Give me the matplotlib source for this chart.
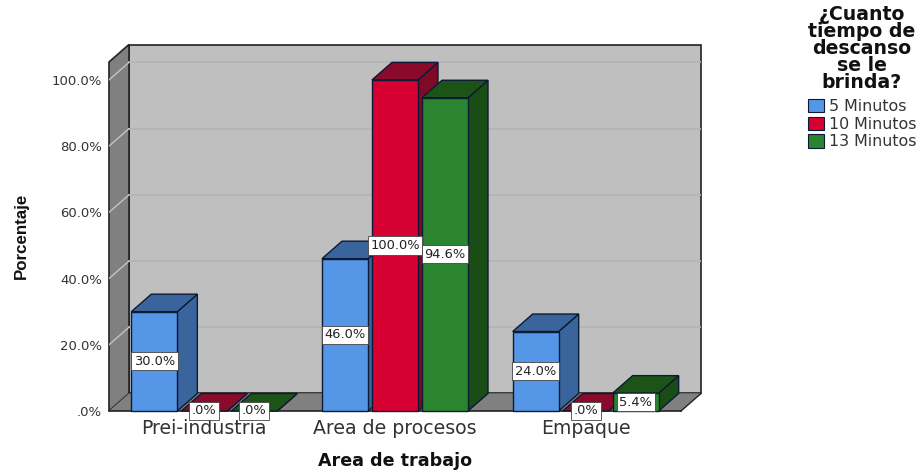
import matplotlib
matplotlib.use("Agg")
import matplotlib.pyplot as plt
from matplotlib.patches import Polygon, Patch

# =====================================================================
# Data
# =====================================================================
areas = ["Prei-industria", "Area de procesos", "Empaque"]
series_names = ["5 Minutos", "10 Minutos", "13 Minutos"]
minutos_5 = [30.0, 46.0, 24.0]
minutos_10 = [0.0, 100.0, 0.0]
minutos_13 = [0.0, 94.6, 5.4]
y_ticks = [0, 20, 40, 60, 80, 100]
y_labels = [".0%", "20.0%", "40.0%", "60.0%", "80.0%", "100.0%"]

# =====================================================================
# Style
# =====================================================================
FRONT = ["#5596E6", "#D60032", "#2A8430"]
TOP = ["#3A659C", "#8A0A2C", "#1C5418"]
SIDE = ["#3A659C", "#7E0A28", "#1A4D16"]
EDGE = "#0C1A33"
WALL = "#BFBFBF"
DARK_WALL = "#808080"

plt.rcParams["font.family"] = "DejaVu Sans"

fig = plt.figure(figsize=(9.18, 4.71), dpi=100)
W, H = 918, 471
# axes covers the front plane plus the depth of the box
ax = fig.add_axes([109 / W, 1 - 411 / H, (701 - 109) / W, (411 - 44.5) / H])

PX_X = 572 / 3.0       # pixels per category
PX_Y = 3.31            # pixels per percent
DX = 20 / PX_X
DY = 17.5 / PX_Y
TOP_VALUE = 105.4

ax.set_xlim(-0.5, 2.5 + DX)
ax.set_ylim(0, TOP_VALUE + DY)
for s in ax.spines.values():
    s.set_visible(False)
ax.set_facecolor("none")


def poly(points, color, z, edge="#222222", lw=1.0):
    ax.add_patch(Polygon(points, closed=True, facecolor=color, edgecolor=edge,
                         linewidth=lw, zorder=z, clip_on=False))


# box: back wall, left wall, floor
poly([(-0.5 + DX, DY), (2.5 + DX, DY), (2.5 + DX, TOP_VALUE + DY), (-0.5 + DX, TOP_VALUE + DY)], WALL, 1, lw=1.2)
poly([(-0.5, 0), (-0.5 + DX, DY), (-0.5 + DX, TOP_VALUE + DY), (-0.5, TOP_VALUE)], DARK_WALL, 1, lw=1.2)
poly([(-0.5, 0), (2.5, 0), (2.5 + DX, DY), (-0.5 + DX, DY)], DARK_WALL, 1.5, edge="none")
ax.plot([-0.5, 2.5], [0, 0], color="#222222", lw=1.2, zorder=1.6, clip_on=False)
ax.plot([2.5, 2.5 + DX], [0, DY], color="#222222", lw=1.0, zorder=1.6, clip_on=False)

# gridlines
for t in y_ticks[1:]:
    ax.plot([-0.5 + DX, 2.5 + DX], [t + DY, t + DY], color="#B4B4B4", lw=1.2, zorder=1.2)
    ax.plot([-0.5, -0.5 + DX], [t, t + DY], color="#C4C4C4", lw=1.0, zorder=1.2)

# bars
BAR_W = 46 / PX_X
STEP = 50 / PX_X
all_series = [minutos_5, minutos_10, minutos_13]
z = 2
for g in range(len(areas)):
    for i, values in enumerate(all_series):
        v = values[g]
        x0 = g + (i - 1) * STEP - BAR_W / 2
        x1 = x0 + BAR_W
        poly([(x1, 0), (x1 + DX, DY), (x1 + DX, v + DY), (x1, v)], SIDE[i], z, edge=EDGE)
        poly([(x0, v), (x1, v), (x1 + DX, v + DY), (x0 + DX, v + DY)], TOP[i], z, edge=EDGE)
        if v > 0:
            poly([(x0, 0), (x1, 0), (x1, v), (x0, v)], FRONT[i], z, edge=EDGE)
        z += 0.1

# value labels go on top of every bar
for g in range(len(areas)):
    for i, values in enumerate(all_series):
        v = values[g]
        txt = ".0%" if v == 0 else f"{v:.1f}%"
        ax.text(g + (i - 1) * STEP, v / 2, txt, ha="center", va="center", fontsize=9.4,
                color="#222222", zorder=10, clip_on=False,
                bbox=dict(boxstyle="square,pad=0.2", facecolor="white", edgecolor="#444444", linewidth=0.6))

# axes text
ax.set_xticks(range(len(areas)))
ax.set_xticklabels(areas, fontsize=13.6, color="#333333")
ax.set_yticks(y_ticks)
ax.set_yticklabels(y_labels, fontsize=9.5, color="#333333")
ax.tick_params(axis="y", length=0, pad=5)
ax.tick_params(axis="x", length=0, pad=5.5)

fig.text(395 / W, 1 - 461 / H, "Area de trabajo", ha="center", va="center",
         fontsize=12.6, fontweight="bold", color="#111111")
fig.text(21 / W, 1 - 236 / H, "Porcentaje", ha="center", va="center", rotation=90,
         fontsize=12.2, fontweight="bold", color="#111111", family="Liberation Sans")

# legend
handles = [Patch(facecolor=FRONT[i], edgecolor=EDGE, linewidth=0.8) for i in range(3)]
leg = fig.legend(handles, series_names, title="¿Cuanto\ntiempo de\ndescanso\nse le\nbrinda?",
                 loc="upper right", bbox_to_anchor=(918 / W, 1 - 3 / H), frameon=False,
                 fontsize=11.4, labelspacing=0.16, handlelength=1.05, handleheight=0.9,
                 handletextpad=0.3, borderpad=0.1, borderaxespad=0)
leg.get_title().set_fontweight("bold")
leg.get_title().set_fontsize(13.6)
leg.get_title().set_color("#111111")
leg.get_title().set_linespacing(0.88)
leg.get_title().set_multialignment("center")
leg._legend_box.sep = 5
for t in leg.get_texts():
    t.set_color("#333333")

fig.savefig("out.png", dpi=100)
